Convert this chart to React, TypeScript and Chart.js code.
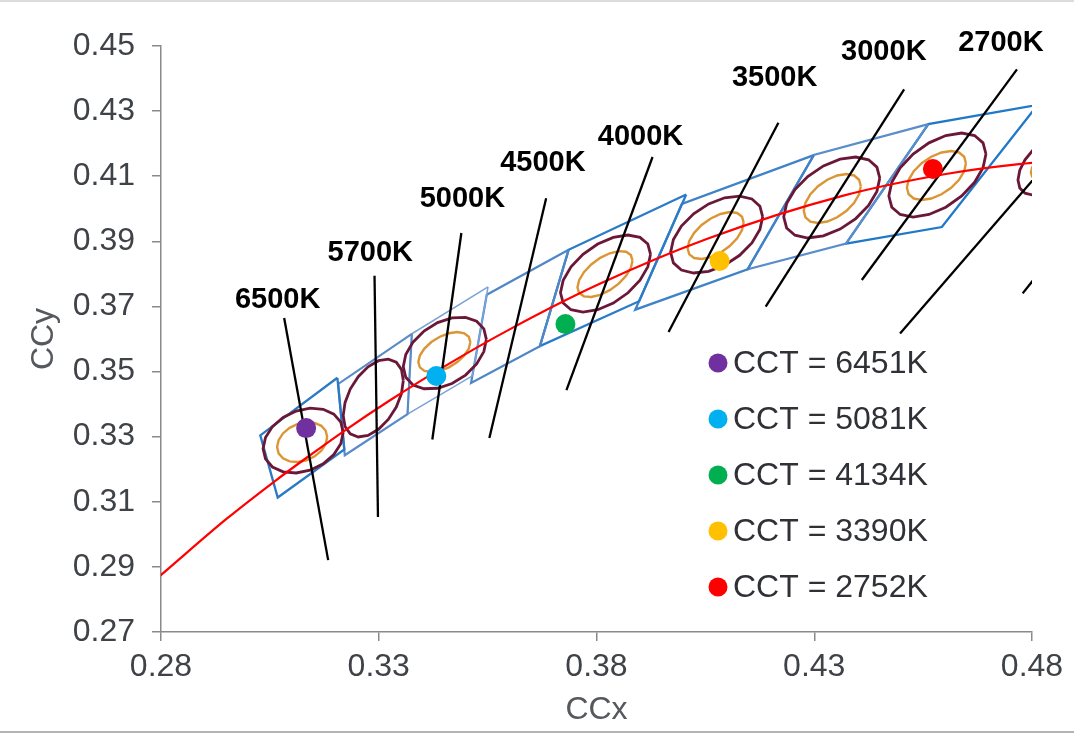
import React, { useEffect, useRef } from "react";
import { Chart, registerables } from "chart.js";

Chart.register(...registerables);

// ---------- axis ticks ----------
const xTickValues = [0.28, 0.33, 0.38, 0.43, 0.48];
const yTickValues = [0.27, 0.29, 0.31, 0.33, 0.35, 0.37, 0.39, 0.41, 0.43, 0.45];

// ---------- Planckian locus (red curve) ----------
const locusX = [0.2750, 0.2807, 0.2951, 0.3064, 0.3135, 0.3221, 0.3325, 0.3451, 0.3608, 0.3805, 0.4053, 0.4369, 0.4599, 0.4770, 0.4862, 0.4959];
const locusY = [0.2818, 0.2883, 0.3048, 0.3166, 0.3236, 0.3318, 0.3411, 0.3516, 0.3635, 0.3768, 0.3907, 0.4041, 0.4106, 0.4137, 0.4147, 0.4152];

// ---------- ANSI quadrangles ----------
const quadNames = ["6500K", "5700K", "5000K", "4500K", "4000K", "3500K", "3000K", "2700K"];
const quadX = [
  [0.3205, 0.3028, 0.3068, 0.3221],
  [0.3376, 0.3207, 0.3222, 0.3366],
  [0.3551, 0.3376, 0.3366, 0.3515],
  [0.3736, 0.3548, 0.3512, 0.3670],
  [0.4006, 0.3736, 0.3670, 0.3898],
  [0.4299, 0.3996, 0.3889, 0.4147],
  [0.4562, 0.4299, 0.4147, 0.4373],
  [0.4813, 0.4562, 0.4373, 0.4593],
];
const quadY = [
  [0.3481, 0.3304, 0.3113, 0.3261],
  [0.3616, 0.3462, 0.3243, 0.3369],
  [0.3760, 0.3616, 0.3369, 0.3487],
  [0.3874, 0.3736, 0.3465, 0.3578],
  [0.4044, 0.3874, 0.3578, 0.3716],
  [0.4165, 0.4015, 0.3690, 0.3814],
  [0.4260, 0.4165, 0.3814, 0.3893],
  [0.4319, 0.4260, 0.3893, 0.3944],
];
const quadColors = ["#2a79c4", "#5a8bc9", "#7aa3d8", "#4f86c6", "#2a7bc8", "#3f82c8", "#5a8dcb", "#1f78c8"];
const quadWidths = [2.3, 2.2, 1.5, 2.2, 2.3, 2.3, 2.2, 2.3];

// ---------- MacAdam ellipses (center, half-width, half-height, correlation) ----------
const outerCx = [0.31264, 0.32874, 0.34517, 0.38207, 0.40759, 0.43402, 0.45828, 0.48368];
const outerCy = [0.32880, 0.34186, 0.35568, 0.38011, 0.39209, 0.40346, 0.41037, 0.41344];
const outerW = [0.00920, 0.00690, 0.00954, 0.01034, 0.01057, 0.01103, 0.01115, 0.00690];
const outerH = [0.00998, 0.01198, 0.01106, 0.01183, 0.01183, 0.01244, 0.01290, 0.00922];
const outerRho = [0.25, 0.45, 0.38, 0.50, 0.46, 0.48, 0.50, 0.50];

const innerCx = [0.31241, 0.34506, 0.38195, 0.40736, 0.43414, 0.45805, 0.48368];
const innerCy = [0.32834, 0.35599, 0.37995, 0.39178, 0.40315, 0.41022, 0.41344];
const innerW = [0.00575, 0.00598, 0.00632, 0.00644, 0.00655, 0.00678, 0.00391];
const innerH = [0.00614, 0.00614, 0.00707, 0.00722, 0.00753, 0.00753, 0.00461];
const innerRho = [0.25, 0.50, 0.58, 0.55, 0.50, 0.50, 0.50];

// ---------- CCT labels and leader lines ----------
const labelTexts = ["6500K", "5700K", "5000K", "4500K", "4000K", "3500K", "3000K", "2700K"];
const labelX = [0.30678, 0.32805, 0.34920, 0.36770, 0.39011, 0.42092, 0.44598, 0.47287];
const labelY = [0.37212, 0.38656, 0.40300, 0.41406, 0.42214, 0.44017, 0.44825, 0.45092];

const leaderX1 = [0.30828, 0.32903, 0.34897, 0.36844, 0.39287, 0.42177, 0.45064, 0.47655, 0.48644, 0.48644];
const leaderY1 = [0.36644, 0.37943, 0.39255, 0.40321, 0.41590, 0.42644, 0.43670, 0.44284, 0.41850, 0.38856];
const leaderX2 = [0.31839, 0.32982, 0.34230, 0.35540, 0.37310, 0.39655, 0.41885, 0.44092, 0.44970, 0.47786];
const leaderY2 = [0.29209, 0.30530, 0.32912, 0.32957, 0.34432, 0.36213, 0.36991, 0.37811, 0.36170, 0.37402];

// ---------- measured samples ----------
const sampleLabels = ["CCT = 6451K", "CCT = 5081K", "CCT = 4134K", "CCT = 3390K", "CCT = 2752K"];
const sampleX = [0.31333, 0.34322, 0.37287, 0.40828, 0.45724];
const sampleY = [0.33264, 0.34862, 0.36459, 0.38395, 0.41221];
const sampleColors = ["#7030a0", "#00b0f0", "#00b050", "#ffc000", "#ff0000"];

const FONT = "'Liberation Sans', Arial, sans-serif";
const ELLIPSE_SEGMENTS = 18;

function ellipsePoints(cx: number, cy: number, w: number, h: number, rho: number) {
  const pts: { x: number; y: number }[] = [];
  const s = Math.sqrt(1 - rho * rho);
  for (let i = 0; i <= ELLIPSE_SEGMENTS; i++) {
    const t = (i / ELLIPSE_SEGMENTS) * 2 * Math.PI;
    pts.push({ x: cx + w * Math.cos(t), y: cy + h * (rho * Math.cos(t) + s * Math.sin(t)) });
  }
  return pts;
}

const overlayPlugin = {
  id: "overlay",
  afterDraw(chart: any) {
    const { ctx, chartArea, scales } = chart;
    const xs = scales.x;
    const ys = scales.y;
    ctx.save();
    // CCT bin labels
    ctx.font = `bold 29px ${FONT}`;
    ctx.fillStyle = "#000000";
    ctx.textAlign = "center";
    ctx.textBaseline = "middle";
    labelTexts.forEach((t, i) => {
      ctx.fillText(t, xs.getPixelForValue(labelX[i]), ys.getPixelForValue(labelY[i]));
    });
    // legend inside plot area
    const lx = chartArea.left + 557;
    const ly0 = chartArea.top + 317;
    const step = 56;
    ctx.font = `32px ${FONT}`;
    ctx.textAlign = "left";
    sampleLabels.forEach((t, i) => {
      const y = ly0 + i * step;
      ctx.beginPath();
      ctx.fillStyle = sampleColors[i];
      ctx.arc(lx, y, 9.5, 0, Math.PI * 2);
      ctx.fill();
      ctx.fillStyle = "#2f3136";
      ctx.fillText(t, lx + 15, y + 1);
    });
    // frame lines
    ctx.fillStyle = "#dcdcdc";
    ctx.fillRect(0, 0, chart.width, 2);
    ctx.fillStyle = "#b4b4b4";
    ctx.fillRect(0, chart.height - 2, chart.width, 2);
    ctx.restore();
  },
};

export default function App() {
  const ref = useRef<HTMLCanvasElement | null>(null);

  useEffect(() => {
    if (!ref.current) return;
    const datasets: any[] = [];

    quadNames.forEach((n, i) => {
      const pts = quadX[i].map((x, k) => ({ x, y: quadY[i][k] }));
      pts.push(pts[0]);
      datasets.push({
        label: "ANSI " + n,
        data: pts,
        showLine: true,
        borderColor: quadColors[i],
        borderWidth: quadWidths[i],
        pointRadius: 0,
        fill: false,
        tension: 0,
        clip: 0,
        order: 5,
      });
    });

    outerCx.forEach((cx, i) => {
      datasets.push({
        label: "7-step " + i,
        data: ellipsePoints(cx, outerCy[i], outerW[i], outerH[i], outerRho[i]),
        showLine: true,
        borderColor: "#6b1838",
        borderWidth: 2.8,
        pointRadius: 0,
        fill: false,
        tension: 0,
        clip: 0,
        order: 4,
      });
    });

    innerCx.forEach((cx, i) => {
      datasets.push({
        label: "4-step " + i,
        data: ellipsePoints(cx, innerCy[i], innerW[i], innerH[i], innerRho[i]),
        showLine: true,
        borderColor: "#dc9535",
        borderWidth: 2.4,
        pointRadius: 0,
        fill: false,
        tension: 0,
        clip: 0,
        order: 3,
      });
    });

    datasets.push({
      label: "Planckian locus",
      data: locusX.map((x, i) => ({ x, y: locusY[i] })),
      showLine: true,
      borderColor: "#ff0000",
      borderWidth: 2.2,
      pointRadius: 0,
      fill: false,
      cubicInterpolationMode: "monotone",
      clip: 0,
      order: 2,
    });

    leaderX1.forEach((x1, i) => {
      datasets.push({
        label: "leader " + i,
        data: [
          { x: x1, y: leaderY1[i] },
          { x: leaderX2[i], y: leaderY2[i] },
        ],
        showLine: true,
        borderColor: "#000000",
        borderWidth: 2.3,
        pointRadius: 0,
        fill: false,
        clip: 0,
        order: 1,
      });
    });

    datasets.push({
      label: "samples",
      data: sampleX.map((x, i) => ({ x, y: sampleY[i] })),
      showLine: false,
      pointRadius: 10,
      pointBackgroundColor: sampleColors,
      pointBorderWidth: 0,
      order: 0,
    });

    const tickFont = { family: FONT, size: 32 };
    const axisColor = "#8a8a8a";

    const chart = new Chart(ref.current, {
      type: "scatter",
      data: { datasets },
      options: {
        animation: false,
        responsive: false,
        maintainAspectRatio: false,
        devicePixelRatio: 1,
        layout: { padding: { top: 46, right: 42, left: 0, bottom: 0 } },
        plugins: { legend: { display: false }, tooltip: { enabled: false } },
        scales: {
          x: {
            type: "linear",
            min: 0.28,
            max: 0.48,
            afterBuildTicks: (s: any) => {
              s.ticks = xTickValues.map((v) => ({ value: v }));
            },
            afterFit: (s: any) => {
              s.height = 101;
            },
            ticks: {
              font: tickFont,
              color: "#3f4246",
              padding: 7,
              maxRotation: 0,
              autoSkip: false,
              callback: (v: any) => Number(v).toFixed(2),
            },
            grid: { drawOnChartArea: false, tickLength: 9, color: axisColor, lineWidth: 1.5 },
            border: { color: axisColor, width: 1.5 },
            title: { display: true, text: "CCx", font: tickFont, color: "#55585c", padding: { top: 0, bottom: 4 } },
          },
          y: {
            type: "linear",
            min: 0.27,
            max: 0.45,
            afterBuildTicks: (s: any) => {
              s.ticks = yTickValues.map((v) => ({ value: v }));
            },
            afterFit: (s: any) => {
              s.width = 161;
            },
            ticks: {
              font: tickFont,
              color: "#3f4246",
              padding: 17,
              autoSkip: false,
              callback: (v: any) => Number(v).toFixed(2),
            },
            grid: { drawOnChartArea: false, tickLength: 9, color: axisColor, lineWidth: 1.5 },
            border: { color: axisColor, width: 1.5 },
            title: { display: true, text: "CCy", font: tickFont, color: "#55585c", padding: { top: 25, bottom: 0 } },
          },
        },
      } as any,
      plugins: [overlayPlugin],
    });
    return () => chart.destroy();
  }, []);

  return (
    <div style={{ position: "fixed", left: 0, top: 0, width: 1074, height: 733, background: "#ffffff" }}>
      <canvas ref={ref} width={1074} height={733} style={{ width: 1074, height: 733, display: "block" }} />
    </div>
  );
}
